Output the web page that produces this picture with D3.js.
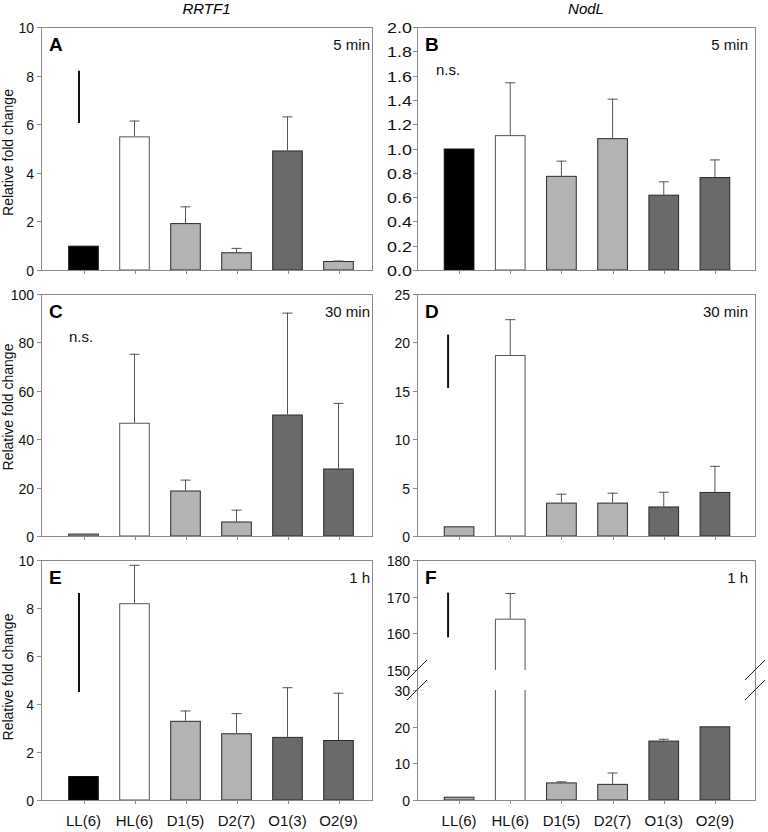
<!DOCTYPE html>
<html>
<head>
<meta charset="utf-8">
<script src="https://cdn.jsdelivr.net/npm/d3@7"></script>
<style>
  html, body { margin: 0; padding: 0; background: #fff; }
  svg { display: block; font-family: "Liberation Sans", Arial, sans-serif; }
</style>
</head>
<body>
<svg id="chart" width="768" height="832"></svg>
<script>
// ---------------- DATA ----------------
const categories = ["LL(6)", "HL(6)", "D1(5)", "D2(7)", "O1(3)", "O2(9)"];
const geneTitles = ["RRTF1", "NodL"];

// bar heights (relative fold change) and top of the error bar (null = none)
const A_values = [1.0, 5.5, 1.93, 0.73, 4.92, 0.37];
const A_errTop = [null, 6.15, 2.62, 0.91, 6.32, 0.39];
const B_values = [1.0, 1.11, 0.775, 1.085, 0.62, 0.765];
const B_errTop = [null, 1.545, 0.9, 1.41, 0.73, 0.91];
const C_values = [1.0, 46.8, 18.8, 6.0, 50.2, 27.9];
const C_errTop = [null, 75.3, 23.3, 10.9, 92.3, 55.0];
const D_values = [1.0, 18.7, 3.45, 3.45, 3.05, 4.55];
const D_errTop = [null, 22.4, 4.37, 4.47, 4.57, 7.25];
const E_values = [1.0, 8.2, 3.3, 2.78, 2.63, 2.5];
const E_errTop = [null, 9.8, 3.73, 3.62, 4.7, 4.47];
const F_values = [0.9, 164, 4.8, 4.4, 16.2, 20.1];
const F_errTop = [null, 171, 5.1, 7.5, 16.7, null];

// shade group of each bar: k = black, w = white, l = light gray, d = dark gray
const A_shades = ["k", "w", "l", "l", "d", "l"];
const B_shades = ["k", "w", "l", "l", "d", "d"];
const C_shades = ["l", "w", "l", "l", "d", "d"];
const D_shades = ["l", "w", "l", "l", "d", "d"];
const E_shades = ["k", "w", "l", "l", "d", "d"];
const F_shades = ["l", "w", "l", "l", "d", "d"];

// y tick values
const A_ticks = [0, 2, 4, 6, 8, 10];
const B_ticks = [0, 0.2, 0.4, 0.6, 0.8, 1.0, 1.2, 1.4, 1.6, 1.8, 2.0];
const C_ticks = [0, 20, 40, 60, 80, 100];
const D_ticks = [0, 5, 10, 15, 20, 25];
const E_ticks = [0, 2, 4, 6, 8, 10];
const F_ticksLow = [0, 10, 20, 30];
const F_ticksHigh = [150, 160, 170, 180];
const F_break = [30, 150];

// significance bars (vertical line spanning [from, to]) and labels
const sigLines = { A: [6.05, 8.2], D: [15.3, 20.8], E: [4.5, 8.63], F: [158.9, 171.1] };
const nsPanels = ["B", "C"];
const timeLabels = { A: "5 min", B: "5 min", C: "30 min", D: "30 min", E: "1 h", F: "1 h" };
const yLabel = "Relative fold change";

// ---------------- STYLE ----------------
const shadeFill = { k: "#000000", w: "#ffffff", l: "#b3b3b3", d: "#6a6a6a" };
const shadeStroke = { k: "#111111", w: "#555555", l: "#2a2a2a", d: "#2a2a2a" };
const frameColor = "#8a8a8a";
const errColor = "#555555";

const svg = d3.select("#chart");

const cols = [
  { left: 41, right: 372, bandStart: 58, bandEnd: 364 },
  { left: 417, right: 755, bandStart: 433.5, bandEnd: 740.5 }
];
const rows = [
  { top: 27, bottom: 270, labelShift: 4 },
  { top: 294, bottom: 536, labelShift: -8 },
  { top: 560, bottom: 800, labelShift: -3 }
];

const panels = [
  { id: "A", col: 0, row: 0, values: A_values, err: A_errTop, shades: A_shades, ticks: A_ticks, domain: [0, 10], fmt: d3.format("d") },
  { id: "B", col: 1, row: 0, values: B_values, err: B_errTop, shades: B_shades, ticks: B_ticks, domain: [0, 2], fmt: d3.format(".1f"), stretch: 1.28 },
  { id: "C", col: 0, row: 1, values: C_values, err: C_errTop, shades: C_shades, ticks: C_ticks, domain: [0, 100], fmt: d3.format("d") },
  { id: "D", col: 1, row: 1, values: D_values, err: D_errTop, shades: D_shades, ticks: D_ticks, domain: [0, 25], fmt: d3.format("d") },
  { id: "E", col: 0, row: 2, values: E_values, err: E_errTop, shades: E_shades, ticks: E_ticks, domain: [0, 10], fmt: d3.format("d") },
  { id: "F", col: 1, row: 2, values: F_values, err: F_errTop, shades: F_shades, broken: true, fmt: d3.format("d") }
];

// gene titles
geneTitles.forEach((t, i) => {
  svg.append("text")
    .attr("x", (cols[i].left + cols[i].right) / 2)
    .attr("y", 14)
    .attr("text-anchor", "middle")
    .attr("font-size", 15)
    .attr("font-style", "italic")
    .text(t);
});

panels.forEach(p => {
  const c = cols[p.col], r = rows[p.row];
  const g = svg.append("g");
  const x = d3.scaleBand().domain(categories).range([c.bandStart, c.bandEnd])
    .paddingInner(0.4).paddingOuter(0.2);

  // y mapping
  let yMap, yLow, yHigh;
  if (p.broken) {
    const gap = 20;
    const seg = (r.bottom - r.top - gap) / 2;
    yLow = d3.scaleLinear().domain([0, F_break[0]]).range([r.bottom, r.bottom - seg]);
    yHigh = d3.scaleLinear().domain([F_break[1], 180]).range([r.top + seg, r.top]);
    yMap = v => v <= F_break[0] ? yLow(v) : yHigh(v);
  } else {
    const y = d3.scaleLinear().domain(p.domain).range([r.bottom, r.top]);
    yMap = y;
    yLow = y;
  }

  // bars
  p.values.forEach((v, i) => {
    const cat = categories[i];
    const x0 = x(cat), w = x.bandwidth();
    const fill = shadeFill[p.shades[i]], stroke = shadeStroke[p.shades[i]];
    if (p.broken && v > F_break[1]) {
      const yb = yLow(0), y30 = yLow(F_break[0]), y150 = yHigh(F_break[1]), yt = yHigh(v);
      g.append("rect").attr("x", x0).attr("y", y30).attr("width", w).attr("height", yb - y30).attr("fill", fill);
      g.append("rect").attr("x", x0).attr("y", yt).attr("width", w).attr("height", y150 - yt).attr("fill", fill);
      g.append("path")
        .attr("d", `M${x0 + 0.5},${yb}V${y30}M${x0 + w - 0.5},${yb}V${y30}M${x0 + 0.5},${y150}V${yt + 0.5}H${x0 + w - 0.5}V${y150}`)
        .attr("fill", "none").attr("stroke", stroke).attr("stroke-width", 1);
    } else {
      const yt = yMap(v);
      g.append("rect")
        .attr("x", x0 + 0.5).attr("y", yt + 0.5)
        .attr("width", w - 1).attr("height", Math.max(0, r.bottom - yt - 0.5))
        .attr("fill", fill).attr("stroke", stroke).attr("stroke-width", 1);
    }
    // error bar
    const e = p.err[i];
    if (e != null) {
      const cx = x0 + w / 2;
      const ye = yMap(e), yt = yMap(v);
      g.append("line").attr("x1", cx).attr("x2", cx).attr("y1", yt).attr("y2", ye)
        .attr("stroke", errColor).attr("stroke-width", 1);
      g.append("line").attr("x1", cx - 5).attr("x2", cx + 5).attr("y1", ye + 0.5).attr("y2", ye + 0.5)
        .attr("stroke", errColor).attr("stroke-width", 1);
    }
  });

  // frame
  g.append("rect")
    .attr("x", c.left + 0.5).attr("y", r.top + 0.5)
    .attr("width", c.right - c.left).attr("height", r.bottom - r.top)
    .attr("fill", "none").attr("stroke", frameColor).attr("stroke-width", 1);

  // y axis ticks/labels
  const addTicks = (scale, ticks) => {
    ticks.forEach(t => {
      const yy = Math.round(scale(t)) + 0.5;
      g.append("line").attr("x1", c.left - 4).attr("x2", c.left + 0.5).attr("y1", yy).attr("y2", yy)
        .attr("stroke", frameColor).attr("stroke-width", 1);
      const tx = c.left - (p.stretch ? 5 : 7);
      g.append("text")
        .attr("transform", `translate(${tx},${yy}) scale(${p.stretch || 1},1)`)
        .attr("dy", "0.36em")
        .attr("text-anchor", "end").attr("font-size", 14).attr("fill", "#111")
        .text(p.fmt(t));
    });
  };
  if (p.broken) {
    addTicks(yLow, F_ticksLow);
    addTicks(yHigh, F_ticksHigh);
    // break marks
    [yHigh(F_break[1]), yLow(F_break[0])].forEach(yy => {
      [c.left, c.right].forEach(xx => {
        g.append("line").attr("x1", xx - 10).attr("y1", yy + 10).attr("x2", xx + 10).attr("y2", yy - 10)
          .attr("stroke", "#222").attr("stroke-width", 1);
      });
    });
  } else {
    addTicks(yMap, p.ticks);
  }

  // x ticks
  categories.forEach(cat => {
    const cx = Math.round(x(cat) + x.bandwidth() / 2) + 0.5;
    g.append("line").attr("x1", cx).attr("x2", cx).attr("y1", r.bottom).attr("y2", r.bottom + 4)
      .attr("stroke", frameColor).attr("stroke-width", 1);
  });
  if (p.row === 2) {
    categories.forEach(cat => {
      g.append("text").attr("x", x(cat) + x.bandwidth() / 2).attr("y", 826)
        .attr("text-anchor", "middle").attr("font-size", 15).attr("fill", "#111").text(cat);
    });
  }

  // panel letter
  g.append("text").attr("x", c.left + 8).attr("y", r.top + 24)
    .attr("font-size", 19).attr("font-weight", "bold").attr("fill", "#000").text(p.id);
  // time label
  g.append("text").attr("x", c.right - (p.col === 0 ? 2 : 7)).attr("y", r.top + 23)
    .attr("text-anchor", "end").attr("font-size", 15).attr("fill", "#111").text(timeLabels[p.id]);

  // n.s.
  if (nsPanels.includes(p.id)) {
    g.append("text").attr("x", c.left + (p.col === 0 ? 28 : 19)).attr("y", r.top + 48)
      .attr("font-size", 15).attr("fill", "#111").text("n.s.");
  }

  // significance line
  if (sigLines[p.id]) {
    const [a, b] = sigLines[p.id];
    const lx = x(categories[0]) + x.bandwidth() / 2 + (p.col === 0 ? -4.5 : -11);
    g.append("line").attr("x1", lx).attr("x2", lx).attr("y1", yMap(a)).attr("y2", yMap(b))
      .attr("stroke", "#111").attr("stroke-width", 2);
  }

  // y label
  if (p.col === 0) {
    const cy = (r.top + r.bottom) / 2 + r.labelShift;
    g.append("text").attr("transform", `translate(13,${cy}) rotate(-90)`)
      .attr("text-anchor", "middle").attr("font-size", 14).attr("fill", "#111").text(yLabel);
  }
});
</script>
</body>
</html>
